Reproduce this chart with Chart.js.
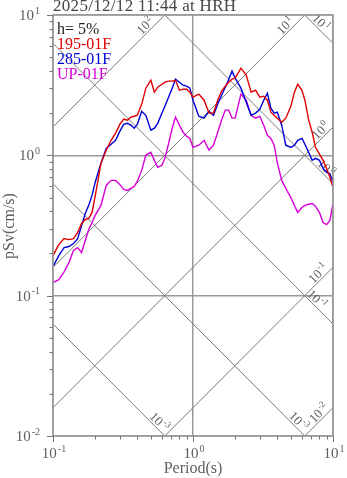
<!DOCTYPE html>
<html>
<head>
<meta charset="utf-8">
<script src="https://cdn.jsdelivr.net/npm/chart.js@4"></script>
<style>
  html, body { margin: 0; padding: 0; background: #fff; }
  #wrap { width: 347px; height: 478px; }
</style>
</head>
<body>
<div id="wrap"><canvas id="c" width="347" height="478"></canvas></div>
<script>
// Pseudo-velocity response spectra (h = 5%), three components
const periods = [0.10,0.11,0.12,0.13,0.14,0.15,0.16,0.17,0.18,0.19,0.20,
  0.22,0.24,0.26,0.28,0.30,0.32,0.34,0.36,0.38,0.40,
  0.43,0.46,0.50,0.53,0.56,0.60,0.63,0.67,0.71,0.75,0.80,0.85,0.90,0.95,
  1.0,1.1,1.2,1.3,1.4,1.5,1.6,1.7,1.8,1.9,2.0,
  2.2,2.4,2.6,2.8,3.0,3.2,3.4,3.6,3.8,4.0,
  4.3,4.6,5.0,5.3,5.6,6.0,6.3,6.7,7.1,7.5,8.0,8.5,9.0,9.5,10.0];

const sv195 = [0.193,0.231,0.255,0.251,0.255,0.282,0.327,0.349,0.355,0.392,0.51,
  0.877,1.086,1.28,1.44,1.66,1.81,1.78,1.87,1.90,1.93,
  2.31,3.01,3.43,2.82,3.06,3.21,3.32,3.38,3.38,3.43,2.91,2.96,2.96,2.82,
  2.60,2.73,2.47,2.0,2.0,2.47,2.87,3.11,3.32,3.49,3.55,
  4.18,3.73,2.82,2.91,2.60,2.64,2.47,2.03,1.93,1.84,
  1.72,1.84,2.24,2.82,3.21,2.91,2.47,1.78,1.46,1.14,1.02,0.921,0.807,0.697,0.59];

const sv285 = [0.161,0.193,0.220,0.224,0.235,0.255,0.316,0.385,0.44,0.518,0.641,
  0.877,1.12,1.2,1.28,1.48,1.66,1.69,1.64,1.56,1.66,
  2.06,1.93,1.51,1.56,1.69,2.0,2.24,2.60,3.01,3.49,3.32,3.16,3.11,3.01,
  2.47,1.90,1.84,2.06,1.93,2.31,2.68,3.06,3.49,3.98,3.55,
  3.01,2.39,1.93,2.0,2.13,2.47,2.77,2.17,2.0,2.03,
  1.64,1.18,1.14,1.18,1.28,1.32,1.2,1.05,0.921,0.952,0.921,0.807,0.757,0.741,0.641];

const svUP = [0.124,0.130,0.148,0.172,0.21,0.22,0.203,0.247,0.296,0.332,0.373,
  0.44,0.61,0.663,0.663,0.621,0.572,0.562,0.581,0.60,0.652,
  0.781,1.0,1.05,0.921,0.821,0.85,0.952,1.22,1.56,1.87,1.64,1.46,1.37,1.32,
  1.14,1.18,1.28,1.09,1.18,1.46,1.78,2.10,2.10,1.84,1.84,
  2.73,2.47,1.93,1.84,1.90,1.64,1.39,1.32,1.18,0.891,
  0.663,0.581,0.50,0.44,0.392,0.425,0.44,0.448,0.454,0.432,0.392,0.332,0.321,0.343,0.454];

// Axis decades and their exponent labels
const xTicks = [0.1, 1, 10];
const xTickExp = ['-1', '0', '1'];
const yTicks = [0.01, 0.1, 1, 10];
const yTickExp = ['-2', '-1', '0', '1'];

// Tripartite guide lines: displacement (cm) and acceleration (cm/s^2)
const dispLevels = [10, 1, 0.1, 0.01, 0.001];
const dispExp = ['1', '0', '-1', '-3', '-3'];
const accLevels = [100, 10, 1, 0.1, 0.01];
const accExp = ['2', '1', '0', '-1', '-2'];

const titleText = '2025/12/12 11:44 at HRH';
const dampingText = 'h= 5%';

const SERIF = '"Liberation Serif", "DejaVu Serif", serif';
const COL_RED = '#e00000';
const COL_BLUE = '#0000d8';
const COL_MAG = '#d800d8';
const COL_FRAME = '#9a9a9a';
const COL_DIAG = '#7a7a7a';
const COL_TEXT = '#5e5e5e';

// distance (px) of each guide label's end before the line leaves the plot
const dispLabelGap = [14, 7, 18, 4, 3];
const accLabelGap = [12, 12, 2, 4, 3];

function isDecade(v) {
  const l = Math.log10(v);
  return Math.abs(l - Math.round(l)) < 1e-6;
}

function drawPow(ctx, exp, x, y, size, align) {
  const es = Math.round(size * 0.68);
  ctx.font = size + 'px ' + SERIF;
  const wb = ctx.measureText('10').width;
  ctx.font = es + 'px ' + SERIF;
  const we = ctx.measureText(exp).width;
  const total = wb + 1 + we;
  let x0 = x;
  if (align === 'right') x0 = x - total;
  else if (align === 'center') x0 = x - total / 2;
  ctx.textAlign = 'left';
  ctx.font = size + 'px ' + SERIF;
  ctx.fillText('10', x0, y);
  ctx.font = es + 'px ' + SERIF;
  ctx.fillText(exp, x0 + wb + 1, y - size * 0.42);
}

const tripartite = {
  id: 'tripartite',
  beforeDatasetsDraw(chart) {
    const { ctx, chartArea: a, scales: { x, y } } = chart;
    const TWO_PI = 2 * Math.PI;
    ctx.save();
    ctx.beginPath();
    ctx.rect(a.left, a.top, a.right - a.left, a.bottom - a.top);
    ctx.clip();
    ctx.strokeStyle = COL_DIAG;
    ctx.lineWidth = 1;
    const tMin = 0.1, tMax = 10;
    accLevels.forEach(A => {
      ctx.beginPath();
      ctx.moveTo(x.getPixelForValue(tMin), y.getPixelForValue(A * tMin / TWO_PI));
      ctx.lineTo(x.getPixelForValue(tMax), y.getPixelForValue(A * tMax / TWO_PI));
      ctx.stroke();
    });
    dispLevels.forEach(D => {
      ctx.beginPath();
      ctx.moveTo(x.getPixelForValue(tMin), y.getPixelForValue(TWO_PI * D / tMin));
      ctx.lineTo(x.getPixelForValue(tMax), y.getPixelForValue(TWO_PI * D / tMax));
      ctx.stroke();
    });
    ctx.restore();

    // guide line labels
    ctx.save();
    ctx.fillStyle = COL_TEXT;
    ctx.textBaseline = 'alphabetic';
    const yTop = 10, yBot = 0.01;
    const r2 = Math.SQRT1_2;
    accLevels.forEach((A, i) => {
      let ex, ey;
      const vR = A * tMax / TWO_PI;
      if (vR > yTop) { ex = x.getPixelForValue(TWO_PI * yTop / A); ey = a.top; }
      else { ex = a.right; ey = y.getPixelForValue(vR); }
      const s = accLabelGap[i];
      ctx.save();
      ctx.translate(ex - s * r2, ey + s * r2);
      ctx.rotate(-Math.PI / 4);
      drawPow(ctx, accExp[i], 0, -2, 13, 'right');
      ctx.restore();
    });
    dispLevels.forEach((D, i) => {
      let ex, ey;
      const vR = TWO_PI * D / tMax;
      if (vR < yBot) { ex = x.getPixelForValue(TWO_PI * D / yBot); ey = a.bottom; }
      else { ex = a.right; ey = y.getPixelForValue(vR); }
      const s = dispLabelGap[i];
      ctx.save();
      ctx.translate(ex - s * r2, ey - s * r2);
      ctx.rotate(Math.PI / 4);
      drawPow(ctx, dispExp[i], 0, -2, 13, 'right');
      ctx.restore();
    });
    ctx.restore();
  },
  afterDraw(chart) {
    const { ctx, chartArea: a, scales: { x, y } } = chart;
    ctx.save();
    // frame
    ctx.strokeStyle = COL_FRAME;
    ctx.lineWidth = 1.5;
    ctx.strokeRect(a.left, a.top, a.right - a.left, a.bottom - a.top);

    // tick marks (outside), decades long, 2..9 short
    ctx.lineWidth = 1;
    ctx.strokeStyle = '#777';
    [0.01, 0.1, 1].forEach(d => {
      for (let m = 1; m <= 9; m++) {
        const v = d * m;
        const len = m === 1 ? 6 : 3.5;
        const py = Math.round(y.getPixelForValue(v)) + 0.5;
        ctx.beginPath(); ctx.moveTo(a.left - len, py); ctx.lineTo(a.left, py); ctx.stroke();
      }
    });
    [0.1, 1].forEach(d => {
      for (let m = 1; m <= 9; m++) {
        const v = d * m;
        const len = m === 1 ? 6 : 3.5;
        const px = Math.round(x.getPixelForValue(v)) + 0.5;
        ctx.beginPath(); ctx.moveTo(px, a.bottom); ctx.lineTo(px, a.bottom + len); ctx.stroke();
      }
    });
    let px10 = Math.round(x.getPixelForValue(10)) + 0.5;
    ctx.beginPath(); ctx.moveTo(px10, a.bottom); ctx.lineTo(px10, a.bottom + 6); ctx.stroke();
    let py10 = Math.round(y.getPixelForValue(10)) + 0.5;
    ctx.beginPath(); ctx.moveTo(a.left - 6, py10); ctx.lineTo(a.left, py10); ctx.stroke();

    // tick labels
    ctx.fillStyle = COL_TEXT;
    ctx.textBaseline = 'alphabetic';
    yTicks.forEach((v, i) => {
      drawPow(ctx, yTickExp[i], a.left - 13, y.getPixelForValue(v) + 5, 15, 'right');
    });
    xTicks.forEach((v, i) => {
      drawPow(ctx, xTickExp[i], x.getPixelForValue(v) + 1, a.bottom + 22, 15, 'center');
    });

    // axis titles
    ctx.font = '16px ' + SERIF;
    ctx.textAlign = 'center';
    ctx.fillText('Period(s)', (a.left + a.right) / 2, 473);
    ctx.save();
    ctx.translate(14, 226);
    ctx.rotate(-Math.PI / 2);
    ctx.fillText('pSv(cm/s)', 0, 0);
    ctx.restore();

    // title
    ctx.textAlign = 'left';
    ctx.fillStyle = '#454545';
    ctx.font = '17px ' + SERIF;
    ctx.letterSpacing = '0.3px';
    ctx.fillText(titleText, a.left, 11);
    ctx.letterSpacing = '0px';

    // in-plot legend
    ctx.font = '16px ' + SERIF;
    ctx.fillStyle = '#222';
    ctx.fillText(dampingText, a.left + 4, 34);
    chart.data.datasets.forEach((ds, i) => {
      ctx.fillStyle = ds.borderColor;
      ctx.fillText(ds.label, a.left + 4, 49 + i * 15);
    });
    ctx.restore();
  }
};

const toPoints = vals => periods.map((t, i) => ({ x: t, y: vals[i] }));

new Chart(document.getElementById('c'), {
  type: 'line',
  data: {
    datasets: [
      { label: '195-01F', data: toPoints(sv195), borderColor: COL_RED },
      { label: '285-01F', data: toPoints(sv285), borderColor: COL_BLUE },
      { label: 'UP-01F', data: toPoints(svUP), borderColor: COL_MAG }
    ]
  },
  options: {
    responsive: false,
    animation: false,
    devicePixelRatio: 1,
    layout: { padding: { top: 15, right: 14, left: 0, bottom: 0 } },
    plugins: { legend: { display: false }, tooltip: { enabled: false } },
    elements: {
      point: { radius: 0 },
      line: { tension: 0, borderWidth: 1.4, fill: false }
    },
    scales: {
      x: {
        type: 'logarithmic', min: 0.1, max: 10,
        ticks: { display: false },
        grid: { color: c => isDecade(c.tick.value) ? COL_FRAME : 'rgba(0,0,0,0)', lineWidth: 1.5, drawTicks: false },
        border: { display: false },
        afterFit(s) { s.height = 42; }
      },
      y: {
        type: 'logarithmic', min: 0.01, max: 10,
        ticks: { display: false },
        grid: { color: c => isDecade(c.tick.value) ? COL_FRAME : 'rgba(0,0,0,0)', lineWidth: 1.5, drawTicks: false },
        border: { display: false },
        afterFit(s) { s.width = 53; }
      }
    }
  },
  plugins: [tripartite]
});
</script>
</body>
</html>
